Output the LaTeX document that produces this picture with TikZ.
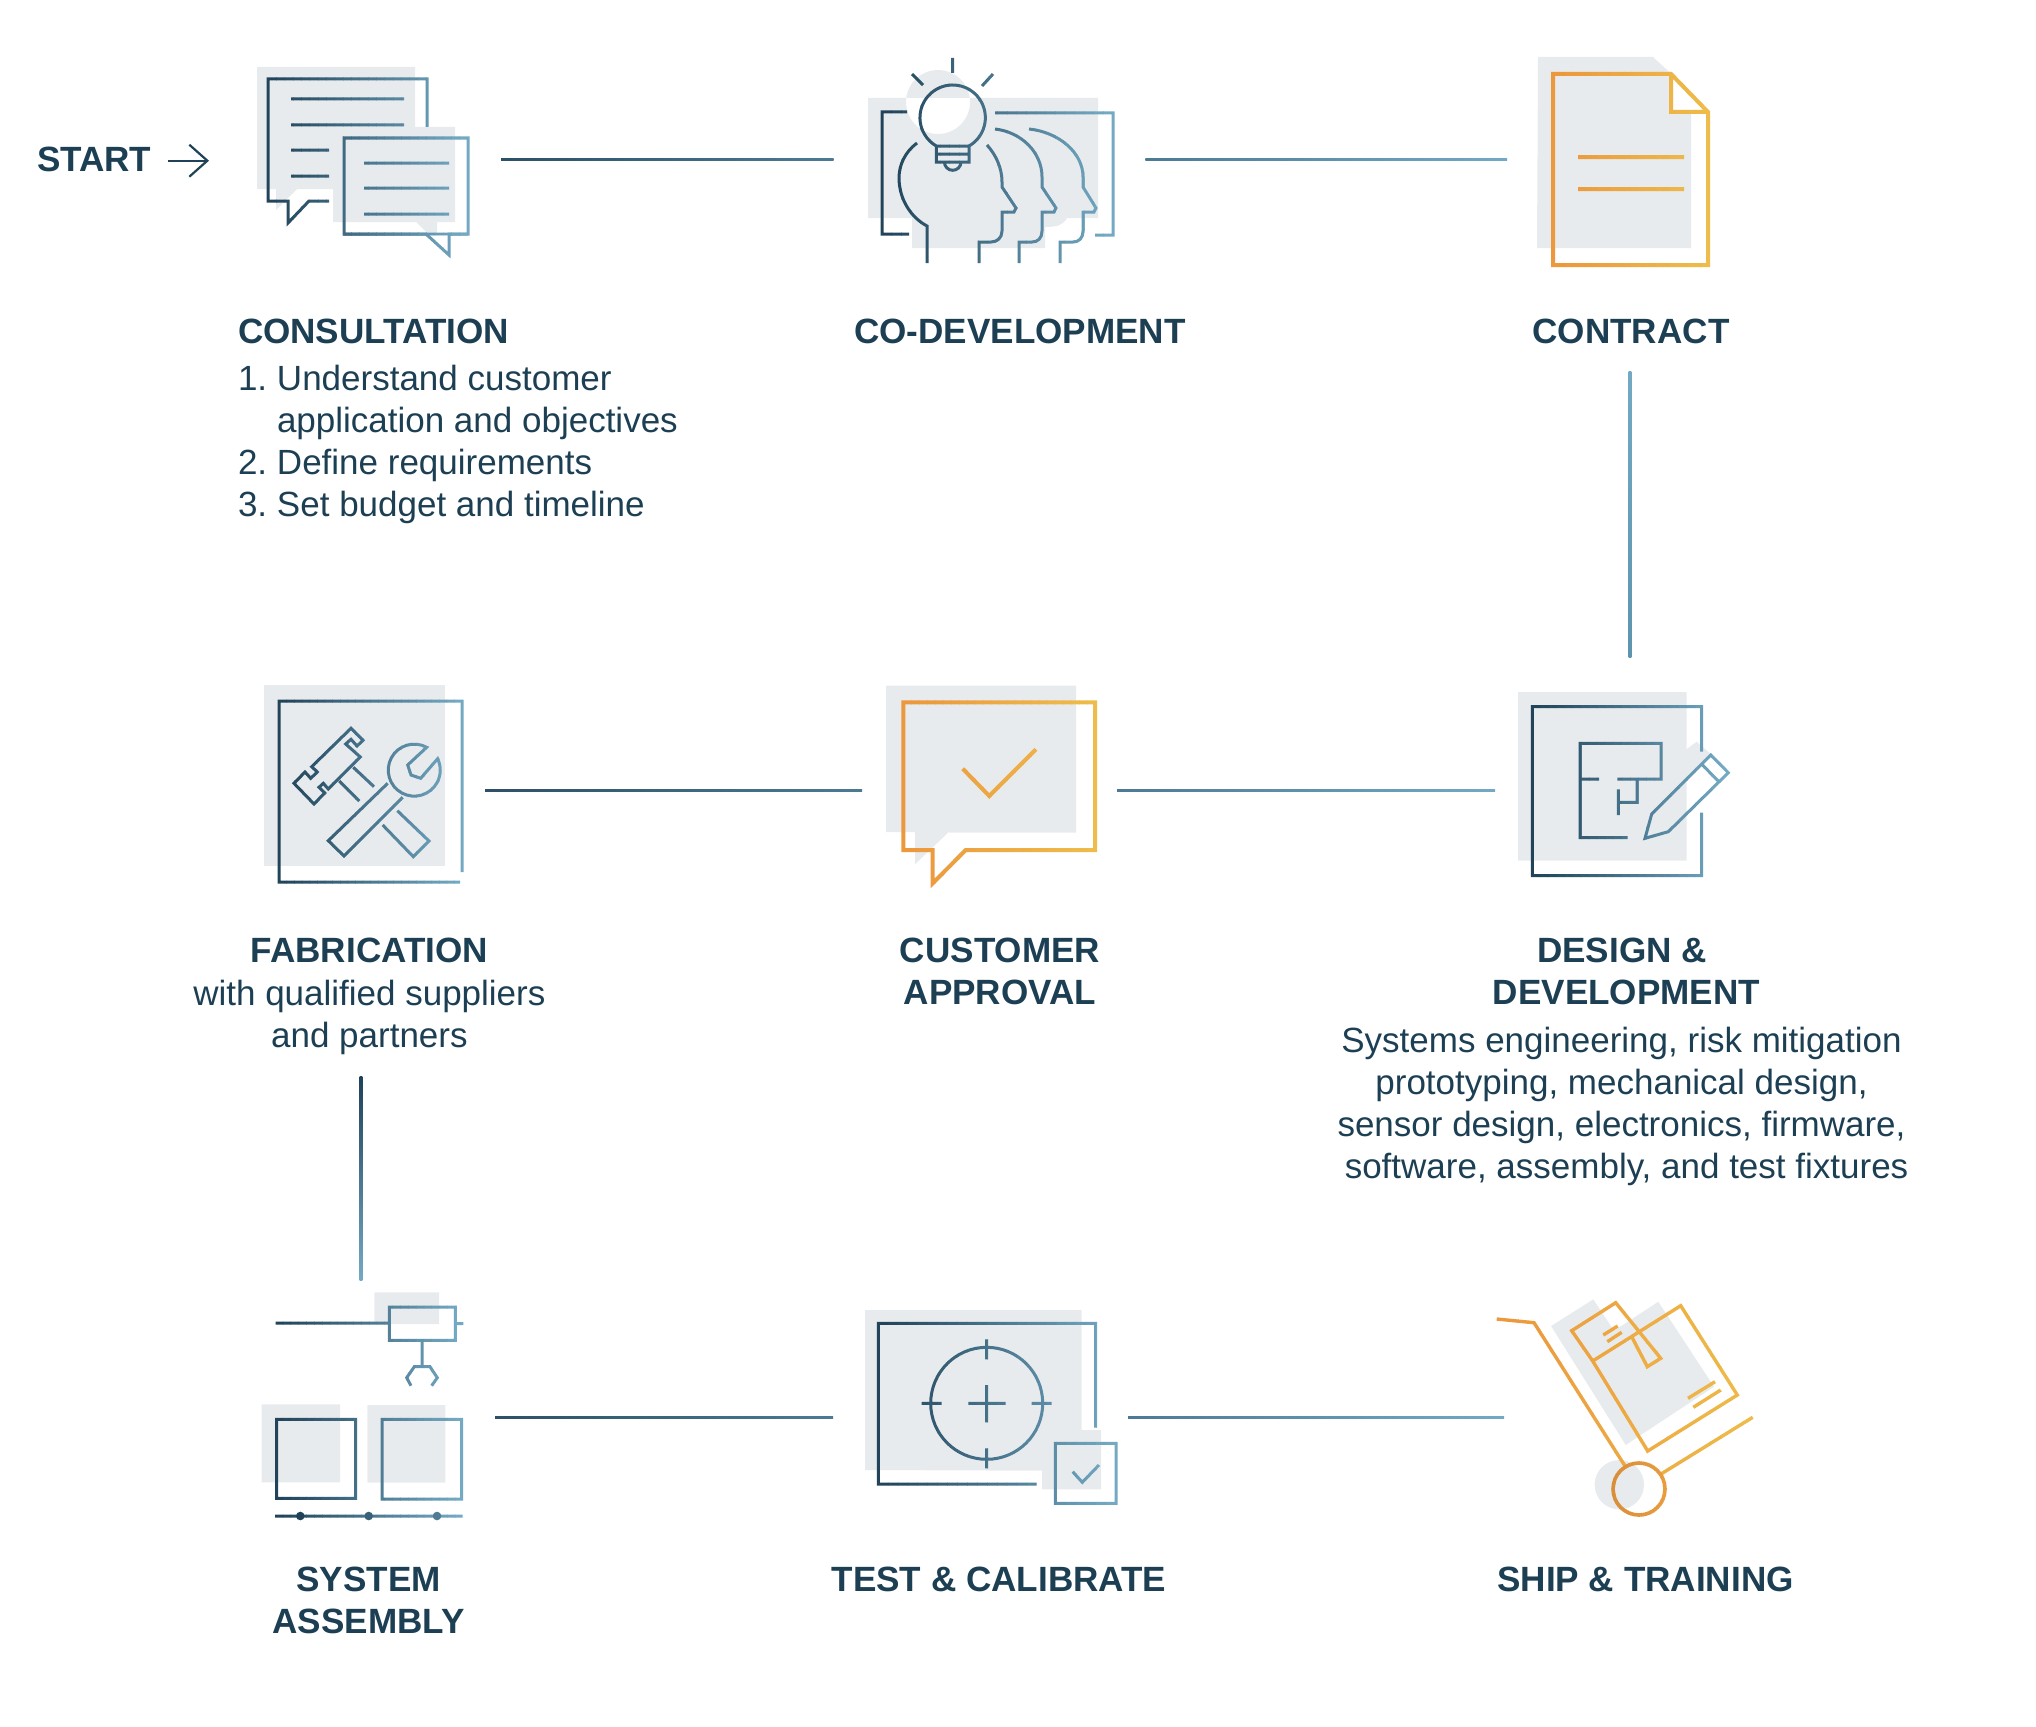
\documentclass[tikz,border=0pt]{standalone}
\usepackage{fontspec}
\setmainfont{Liberation Sans}
\usetikzlibrary{arrows.meta}
\definecolor{navy}{HTML}{1F4258}
\definecolor{teal}{HTML}{76ACC6}
\definecolor{orangeA}{HTML}{EC973D}
\definecolor{orangeB}{HTML}{EDBD4A}
\definecolor{wheelA}{HTML}{D98F3A}
\definecolor{wheelB}{HTML}{E89C3E}
\definecolor{pale}{HTML}{E8EBEE}
\definecolor{ink}{HTML}{1D3F54}
\definecolor{lineA}{HTML}{2C5068}
\definecolor{lineB}{HTML}{4C7A94}
\definecolor{lineC}{HTML}{74A9C3}
\definecolor{lineD}{HTML}{5E94AE}
\newcommand{\gradicon}[5]{\foreach \i in {1,...,24}{
	\pgfmathsetmacro{\gradxa}{\i==1 ? #1-6 : #1+(\i-1)*(#2-#1)/24}
	\pgfmathsetmacro{\gradxb}{\i==24 ? #2+6 : #1+\i*(#2-#1)/24+.5}
	\pgfmathtruncatemacro{\gradpc}{(\i-.5)*100/24}
	\begin{scope}
		\clip (\gradxa,0) rectangle (\gradxb,1726);
		\draw[color=#4!\gradpc!#3] #5;
	\end{scope}}}
\newcommand{\hconn}[4]{\shade[left color=#3,right color=#4] ([yshift=-1pt]#1) rectangle ([yshift=1pt]#2);}
\newcommand{\vconn}[4]{\shade[top color=#3,bottom color=#4] ([xshift=-1.3pt]#1) rectangle ([xshift=1.3pt]#2);}
\begin{document}
\begin{tikzpicture}[x=1pt,y=-1pt,line width=3pt,miter limit=10,text=ink]
\tikzstyle{box}=[inner sep=0pt,outer sep=0pt,minimum width=#1]
\tikzstyle{title}=[inner sep=0pt,align=center,anchor=north,font=\fontsize{35.1}{42}\selectfont\bfseries]
\tikzstyle{body}=[inner sep=0pt,align=center,anchor=north,font=\fontsize{35}{42}\selectfont]

\useasboundingbox (0,0) rectangle (2036,1726);

\node[box=316,minimum height=200] (cons)  at (343,159) {};
\node[box=311.7,minimum height=200] (codev) at (989.5,159) {};
\node[box=246,minimum height=424] (contr) at (1630,159) {};
\node[box=270,minimum height=266] (design) at (1630,790) {};
\node[box=255,minimum height=200] (appr)  at (989.5,790) {};
\node[box=248,minimum height=573] (fabr)  at (361,790) {};
\node[box=268,minimum height=274] (assy)  at (361,1417) {};
\node[box=295,minimum height=200] (test)  at (980.5,1417) {};
\node[box=280,minimum height=200] (ship)  at (1644,1417) {};

\node[title,anchor=north west] (start) at (35.5,145) {START};
\node[title,anchor=north west] (cons-t) at (236.5,317) {CONSULTATION};
\node[body,anchor=north west,align=left] (cons-b) at (236.5,363.7) {\makebox[39pt][l]{1.}Understand customer\\\hspace*{39pt}application and objectives\\\makebox[39pt][l]{2.}Define requirements\\\makebox[39pt][l]{3.}Set budget and timeline};
\node[title] (codev-t)  at (1020,317) {CO-DEVELOPMENT};
\node[title] (contr-t)  at (1631,317) {CONTRACT};
\node[title] (fabr-t)   at (369.4,936.8) {FABRICATION};
\node[body]  (fabr-b)   at (369.4,978.3) {with qualified suppliers\\and partners};
\node[title] (appr-t)   at (1000,936.8) {CUSTOMER\\APPROVAL};
\node[title] (design-t) at (1626.4,936.8) {DESIGN \&\hspace*{9pt}\\DEVELOPMENT};
\node[body]  (design-b) at (1621.5,1025.5) {Systems engineering, risk mitigation\\prototyping, mechanical design,\\sensor design, electronics, firmware,\\\hspace*{10pt}software, assembly, and test fixtures};
\node[title] (assy-t)   at (368.5,1565.8) {SYSTEM\\ASSEMBLY};
\node[title] (test-t)   at (999,1565.8) {TEST \& CALIBRATE};
\node[title] (ship-t)   at (1645.5,1565.8) {SHIP \& TRAINING};

\coordinate (arrowend) at (209,160.7);
\draw[navy,line width=2.2pt,shorten <=15.5pt,-{Straight Barb[length=18pt,width=32pt]}] (start.east |- arrowend) -- (arrowend);

\hconn{cons.east}{codev.west}{lineA}{lineB}
\hconn{codev.east}{contr.west}{lineB}{lineC}
\vconn{contr.south}{design.north}{lineC}{lineD}
\hconn{appr.east}{design.west}{lineB}{lineC}
\hconn{fabr.east}{appr.west}{lineA}{lineB}
\vconn{fabr.south}{assy.north}{navy}{lineC}
\hconn{assy.east}{test.west}{lineA}{lineB}
\hconn{test.east}{ship.west}{lineB}{lineC}

\fill[pale] (257,67) rectangle (415,189) (276,189) -- (276,210) -- (297,189) -- cycle;
\fill[pale] (333,127) rectangle (455,222) (416,222) -- (437,243) -- (437,222) -- cycle;
\gradicon{268}{468}{navy}{teal}{(427,127) -- (427,79) -- (268,79) -- (268,201) -- (288,201) -- (288,223) -- (309,201) -- (329,201)
	(291,99) -- (404,99) (291,125) -- (404,125) (291,150) -- (329,150) (291,176) -- (329,176)
	(344,138) rectangle (468,234)}
\fill[white] (426,235.5) -- (449,255) -- (449,235.5) -- cycle;
\gradicon{268}{468}{navy}{teal}{(344,234) -- (426,234) -- (449,255) -- (449,234) -- (468,234)
	(364,163) -- (449,163) (364,188) -- (449,188) (364,214) -- (449,214)}

\fill[pale] (868,98) rectangle (1098,218) (912,218) rectangle (1045,248) (938,102) circle[radius=32]
	(1045,218) -- (1067,218) .. controls (1063,225) and (1058,227) .. (1045,227) -- cycle;
\gradicon{882}{1113}{navy}{teal}{(907,112) -- (882,112) -- (882,234) -- (909,234)
	(995,113) -- (1113,113) -- (1113,235) -- (1095,235)
	(969,146) arc[start angle=60,end angle=-240,radius=32.7] -- cycle
	(936.3,146) rectangle (969,162) (936.3,154) -- (969,154)
	(961,162) arc[start angle=0,end angle=180,radius=8.3]
	(952.7,58) -- (952.7,73) (912,74) -- (923,85) (993,74) -- (982,86)
	(917,143) .. controls (905,152) and (899,165) .. (899,178) .. controls (899,198) and (910,217) .. (927,226) -- (927,263)
	(987,145) .. controls (996,155) and (1002,168) .. (1002,182) -- (1002,187) -- (1016,208) -- (1014,212) -- (1002,212) -- (1002,231) .. controls (1002,238) and (997,242) .. (991,242) -- (979,242) -- (979,263)
	(995,129) .. controls (1021,132) and (1042,152) .. (1042,177) -- (1042,187) -- (1056,208) -- (1054,212) -- (1042,212) -- (1042,231) .. controls (1042,238) and (1038,242) .. (1032,242) -- (1019,242) -- (1019,263)
	(1029,129) .. controls (1058,132) and (1083,152) .. (1083,177) -- (1083,187) -- (1096,208) -- (1094,212) -- (1083,212) -- (1083,231) .. controls (1083,238) and (1079,242) .. (1073,242) -- (1060,242) -- (1060,263)}

\fill[pale] (1538,57) -- (1653,57) -- (1691,92) -- (1691,248) -- (1537,248) -- cycle;
\fill[white] (1671,74) -- (1671,112) -- (1708,112) -- cycle;
\gradicon{1553}{1708}{orangeA}{orangeB}{[line width=4pt] (1553,74) -- (1671,74) -- (1708,112) -- (1708,265) -- (1553,265) -- cycle
	(1671,74) -- (1671,112) -- (1708,112) (1578,157) -- (1684,157) (1578,189) -- (1684,189)}

\fill[pale] (264,685) rectangle (445,866);
\gradicon{279}{462}{navy}{teal}{(462,872) -- (462,701) -- (279,701) -- (279,882) -- (460,882)
	(351,728.3) -- (363,740.3) -- (357,746) -- (351,739.3) -- (345.7,744) -- (360.3,757) -- (328.3,789) -- (323.3,783.3) -- (319,787.3) -- (324.7,793) -- (314,804) -- (294,783.3) -- (305,772) -- (310.7,778.3) -- (317.3,772) -- (311.7,766.7) -- cycle
	(353.3,767.3) -- (374,786.7) (339.3,781) -- (359.3,801)
	(387.7,783.3) -- (328.3,840.7) -- (344,856) -- (402.7,797.3)
	(426.7,747.3) arc[start angle=-61.4,end angle=-386,radius=26] -- (420.7,778.3) -- (411,775) -- (407.7,765) -- cycle
	(397.3,810.7) -- (429,841) -- (413.3,856.7) -- (382.7,825)}

\fill[pale] (886,685.7) -- (1076,685.7) -- (1076,832.7) -- (948,832.7) -- (915,864.3) -- (915,832) -- (886,832) -- cycle;
\gradicon{903}{1095}{orangeA}{orangeB}{[line width=4pt] (903.3,702.3) -- (1095,702.3) -- (1095,850) -- (965.7,850) -- (932.7,883.3) -- (932.7,850) -- (903.3,850) -- cycle
	(962.7,768.7) -- (989.3,796) -- (1036,749.3)}

\fill[pale] (1518,692) -- (1686.7,692) -- (1686.7,749) -- (1696.7,741.7) -- (1710,753.3) -- (1686.7,776.7) -- (1686.7,860.7) -- (1518,860.7) -- cycle;
\gradicon{1532}{1728}{navy}{teal}{(1701.7,751.7) -- (1701.7,706.7) -- (1532.3,706.7) -- (1532.3,875.7) -- (1701.7,875.7) -- (1701.7,812.7)
	(1627.7,837.7) -- (1580,837.7) -- (1580,743.3) -- (1661,743.3) -- (1661,779) -- (1617.3,779)
	(1580,779) -- (1599,779) (1637,779) -- (1637,802.3) -- (1618.3,802.3) (1618.3,789.3) -- (1618.3,815)
	(1710.7,755) -- (1728.3,772.7) -- (1668.3,831.7) -- (1645,838.3) -- (1651.7,814) -- cycle
	(1701.7,764.3) -- (1718.3,781)}

\fill[pale] (374.3,1292.3) rectangle (439,1324) (261.7,1404.3) rectangle (340,1482.3) (367.3,1405) rectangle (445.3,1482.7);
\gradicon{275}{463}{navy}{teal}{(275.7,1323) -- (389.3,1323) (389.3,1307) rectangle (455.3,1340.3) (455.3,1323.7) -- (463.3,1323.7)
	(422,1340.3) -- (422,1366.7)
	(411,1385.7) -- (406.7,1377.7) -- (414.3,1366.7) -- (430,1366.7) -- (437.3,1377.7) -- (431.7,1385.7)
	(276.7,1419.3) rectangle (355.7,1498.3) (382,1419.3) rectangle (461.7,1499)
	(275,1516) -- (462.7,1516)}
\fill[navy] (300.3,1516) circle[radius=4.3];
\fill[navy!70!teal] (368.7,1516) circle[radius=4.3];
\fill[navy!45!teal] (437,1516) circle[radius=4.3];

\fill[pale] (865,1310) -- (1081.7,1310) -- (1081.7,1430) -- (1101,1430) -- (1101,1489.3) -- (1042,1489.3) -- (1042,1470.7) -- (865,1470) -- cycle;
\gradicon{878}{1116}{navy}{teal}{(1095.7,1427.7) -- (1095.7,1323.3) -- (878.3,1323.3) -- (878.3,1484) -- (1036.7,1484)
	(986.7,1403.3) circle[radius=56]
	(986.7,1339.3) -- (986.7,1359.3) (986.7,1448.3) -- (986.7,1468.3) (921.7,1403.3) -- (941.7,1403.3) (1031.7,1403.3) -- (1051.7,1403.3)
	(968.3,1403.3) -- (1005.7,1403.3) (986.7,1385) -- (986.7,1422.3)
	(1055.3,1443.3) rectangle (1116,1503.3)
	(1072.7,1471.7) -- (1082.3,1482.3) -- (1099,1465)}

\fill[pale] (1551,1326) -- (1593.3,1299.3) -- (1614,1330.7) -- (1658.3,1301.7) -- (1714,1386.7) -- (1625.7,1445) -- cycle
	(1619.3,1484.7) circle[radius=24.7];
\gradicon{1497}{1753}{orangeA}{orangeB}{[line width=3.4pt] (1496.7,1319) -- (1534,1322.7) -- (1625,1466)
	(1661,1474) -- (1752.7,1417.3)
	(1592.7,1361) -- (1680.7,1305.7) -- (1737.3,1395) -- (1647.7,1451) -- cycle
	(1592.7,1361) -- (1571.7,1330.7) -- (1615.7,1302.7) -- (1660.7,1358.3) -- (1647.3,1366.7) -- (1631.7,1336.7)
	(1603.3,1335) -- (1617.7,1326) (1607.3,1341.7) -- (1621.7,1332.3)
	(1688,1398.3) -- (1715,1381.7) (1693.3,1407.3) -- (1720.7,1390)}
\gradicon{1613}{1665}{wheelA}{wheelB}{[line width=3.6pt] (1639,1489) circle[radius=26]}
\end{tikzpicture}
\end{document}
